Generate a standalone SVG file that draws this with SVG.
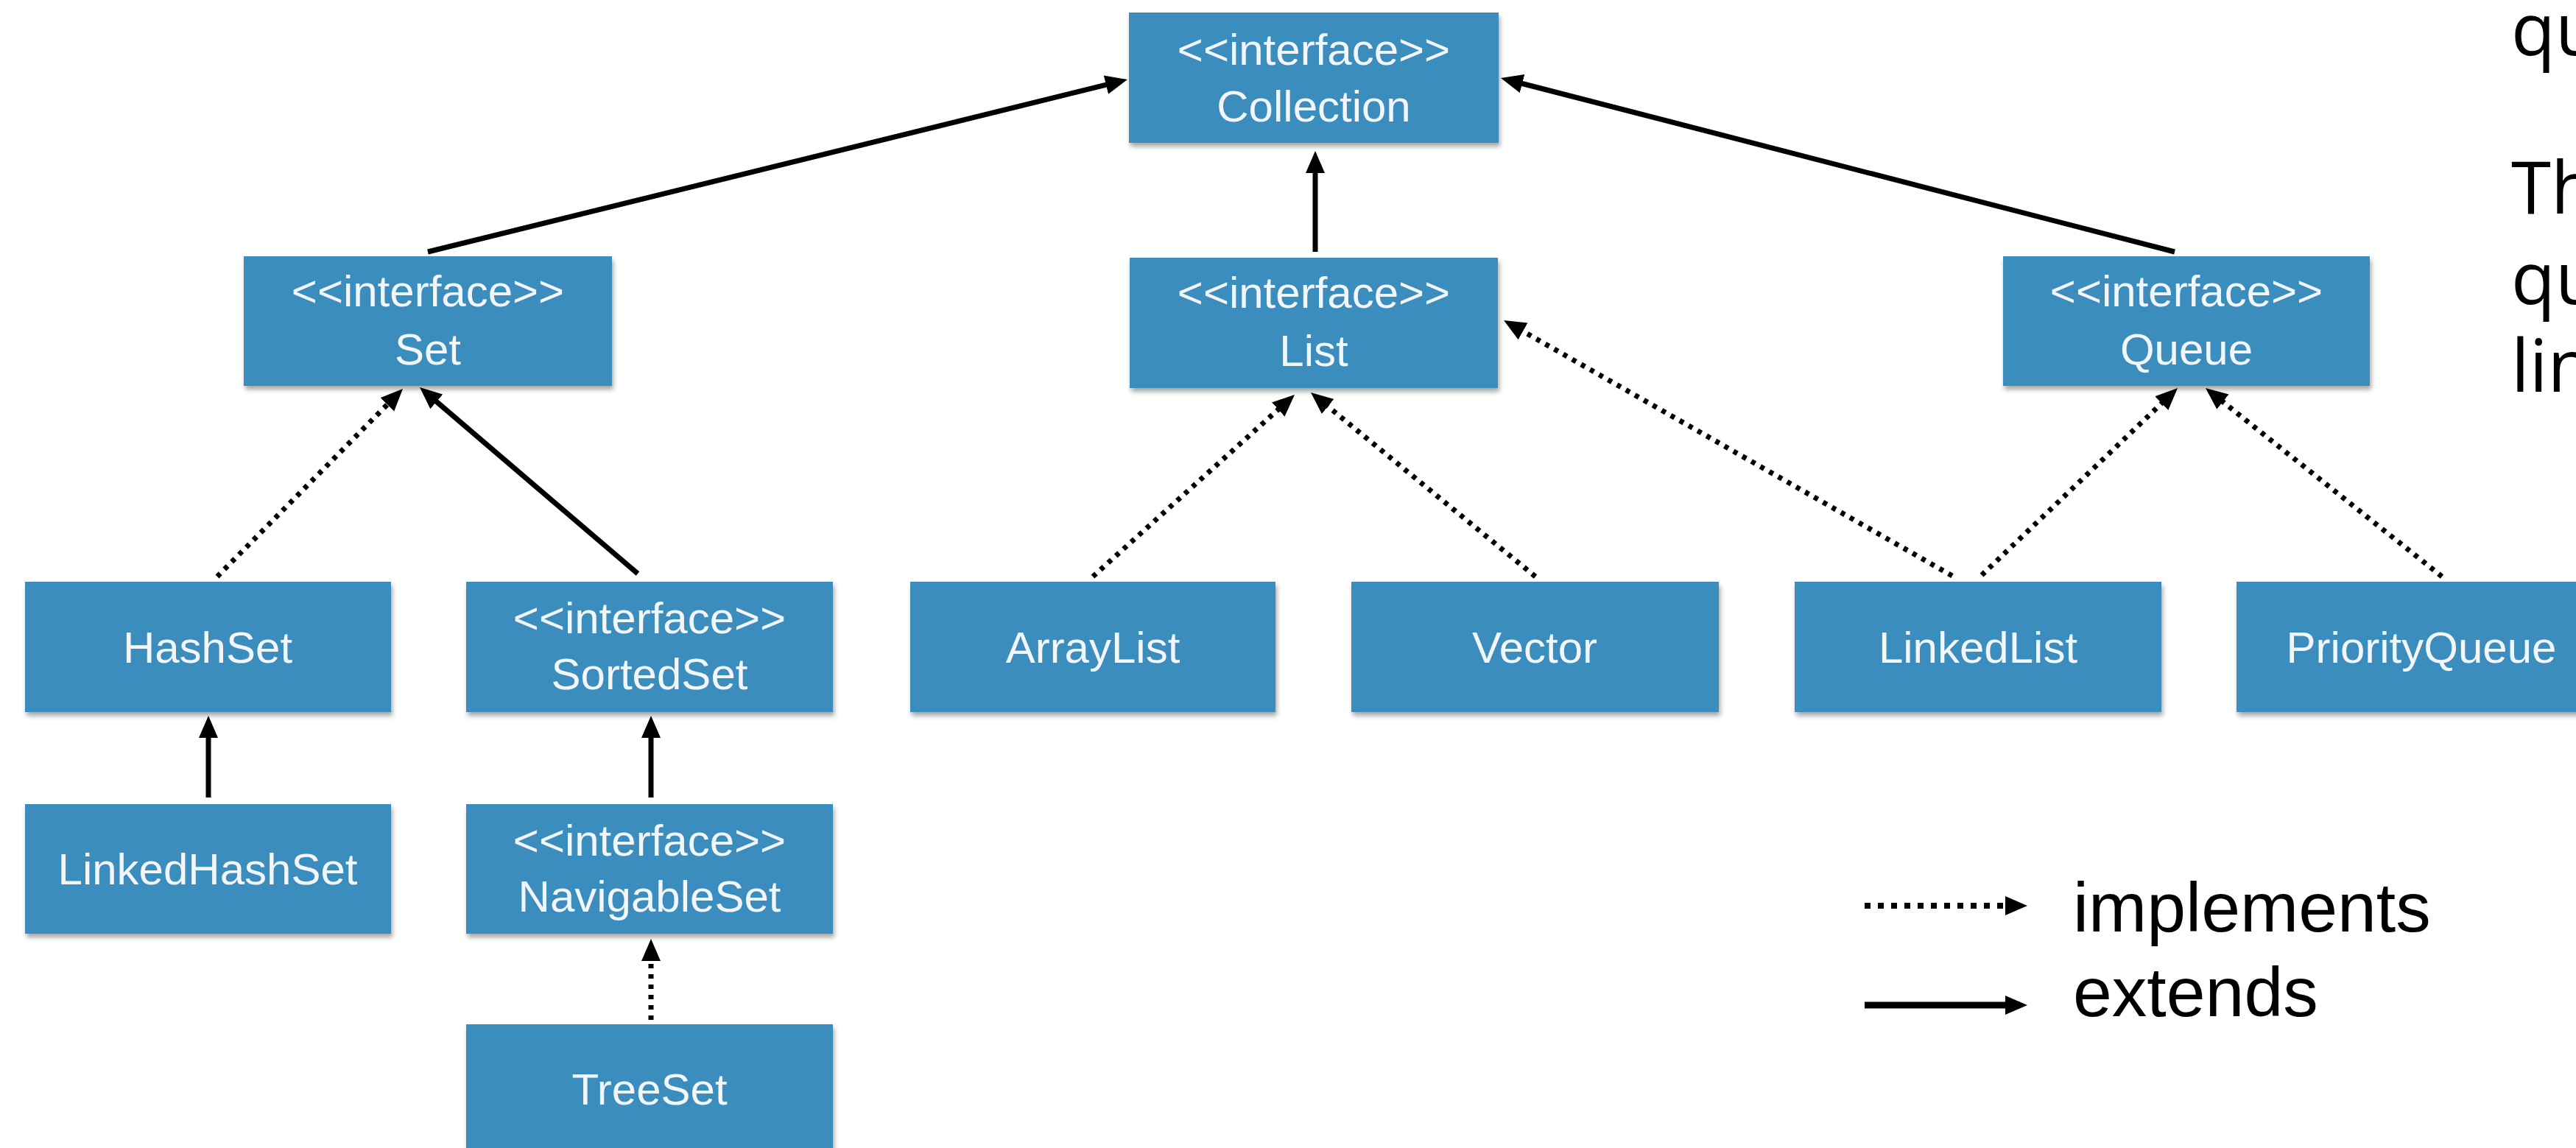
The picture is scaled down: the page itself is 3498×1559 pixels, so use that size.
<svg xmlns="http://www.w3.org/2000/svg" width="3498" height="1559" viewBox="0 0 3498 1559">
<defs>
<filter id="sh" x="-5%" y="-5%" width="110%" height="120%">
<feDropShadow dx="2" dy="5" stdDeviation="3" flood-color="#000" flood-opacity="0.35"/>
</filter>
<marker id="ah" markerUnits="userSpaceOnUse" markerWidth="32" markerHeight="28" viewBox="0 0 32 28" refX="20" refY="13" orient="auto">
<path d="M0,0 L30,13 L0,26 z" fill="#000"/>
</marker>
</defs>
<style>
.box{fill:#3A8DBE;filter:url(#sh)}
.t{font-family:"Liberation Sans",Arial,sans-serif;font-size:60px;fill:#F2F6F9;text-anchor:middle}
.solid{stroke:#000;stroke-width:7;fill:none;marker-end:url(#ah)}
.dot{stroke:#000;stroke-width:7;fill:none;stroke-dasharray:6 8;marker-end:url(#ah)}
.lg{font-family:"Liberation Sans",Arial,sans-serif;font-size:95px;fill:#000}
.side{font-family:"Open Sans","Noto Sans",sans-serif;font-size:98px;fill:#000}
</style>
<rect width="3498" height="1559" fill="#fff"/>

<g id="connectors">
<path class="solid" d="M581,342 L1521.3,110.4"/>
<path class="solid" d="M1786,342 L1786,215"/>
<path class="solid" d="M2953,342 L2047.7,108.5"/>
<path class="dot" d="M295,783 L540,535.1"/>
<path class="solid" d="M866,779 L577.6,532.5"/>
<path class="dot" d="M1484,783 L1750.6,542.7"/>
<path class="dot" d="M2085,783 L1787.7,539.3"/>
<path class="dot" d="M2651,782 L2050.7,440"/>
<path class="dot" d="M2691,781 L2949.8,533.9"/>
<path class="dot" d="M3316,783 L3002.8,533.2"/>
<path class="solid" d="M283,1083 L283,982"/>
<path class="solid" d="M884,1083 L884,982"/>
<path class="dot" d="M884,1385 L884,1285"/>
</g>

<g id="n-collection"><rect class="box" x="1533" y="17" width="502" height="177"/><text class="t" x="1784" y="88">&lt;&lt;interface&gt;&gt;</text><text class="t" x="1784" y="165">Collection</text></g>
<g id="n-set"><rect class="box" x="331" y="348" width="500" height="176"/><text class="t" x="581" y="416">&lt;&lt;interface&gt;&gt;</text><text class="t" x="581" y="495">Set</text></g>
<g id="n-list"><rect class="box" x="1534" y="350" width="500" height="177"/><text class="t" x="1784" y="418">&lt;&lt;interface&gt;&gt;</text><text class="t" x="1784" y="497">List</text></g>
<g id="n-queue"><rect class="box" x="2720" y="348" width="498" height="176"/><text class="t" x="2969" y="416">&lt;&lt;interface&gt;&gt;</text><text class="t" x="2969" y="495">Queue</text></g>
<g id="n-hashset"><rect class="box" x="34" y="790" width="497" height="177"/><text class="t" x="282" y="900">HashSet</text></g>
<g id="n-sortedset"><rect class="box" x="633" y="790" width="498" height="177"/><text class="t" x="882" y="860">&lt;&lt;interface&gt;&gt;</text><text class="t" x="882" y="936">SortedSet</text></g>
<g id="n-arraylist"><rect class="box" x="1236" y="790" width="496" height="177"/><text class="t" x="1484" y="900">ArrayList</text></g>
<g id="n-vector"><rect class="box" x="1835" y="790" width="499" height="177"/><text class="t" x="2084" y="900">Vector</text></g>
<g id="n-linkedlist"><rect class="box" x="2437" y="790" width="498" height="177"/><text class="t" x="2686" y="900">LinkedList</text></g>
<g id="n-priorityqueue"><rect class="box" x="3037" y="790" width="498" height="177"/><text class="t" x="3288" y="900">PriorityQueue</text></g>
<g id="n-linkedhashset"><rect class="box" x="34" y="1092" width="497" height="176"/><text class="t" x="282" y="1201">LinkedHashSet</text></g>
<g id="n-navigableset"><rect class="box" x="633" y="1092" width="498" height="176"/><text class="t" x="882" y="1162">&lt;&lt;interface&gt;&gt;</text><text class="t" x="882" y="1238">NavigableSet</text></g>
<g id="n-treeset"><rect class="box" x="633" y="1391" width="498" height="190"/><text class="t" x="882" y="1500">TreeSet</text></g>

<g id="legend">
<path class="dot" d="M2532,1230 L2743,1230" style="stroke-width:8;stroke-dasharray:8 10"/>
<path class="solid" d="M2532,1365 L2743,1365" style="stroke-width:9"/>
<text class="lg" x="2815" y="1265">implements</text>
<text class="lg" x="2815" y="1380">extends</text>
</g>

<g id="side-text">
<text class="side" x="3410" y="75">qu</text>
<text class="side" x="3410" y="290">Th</text>
<text class="side" x="3410" y="413">qu</text>
<text class="side" x="3410" y="532">lin</text>
</g>
</svg>
